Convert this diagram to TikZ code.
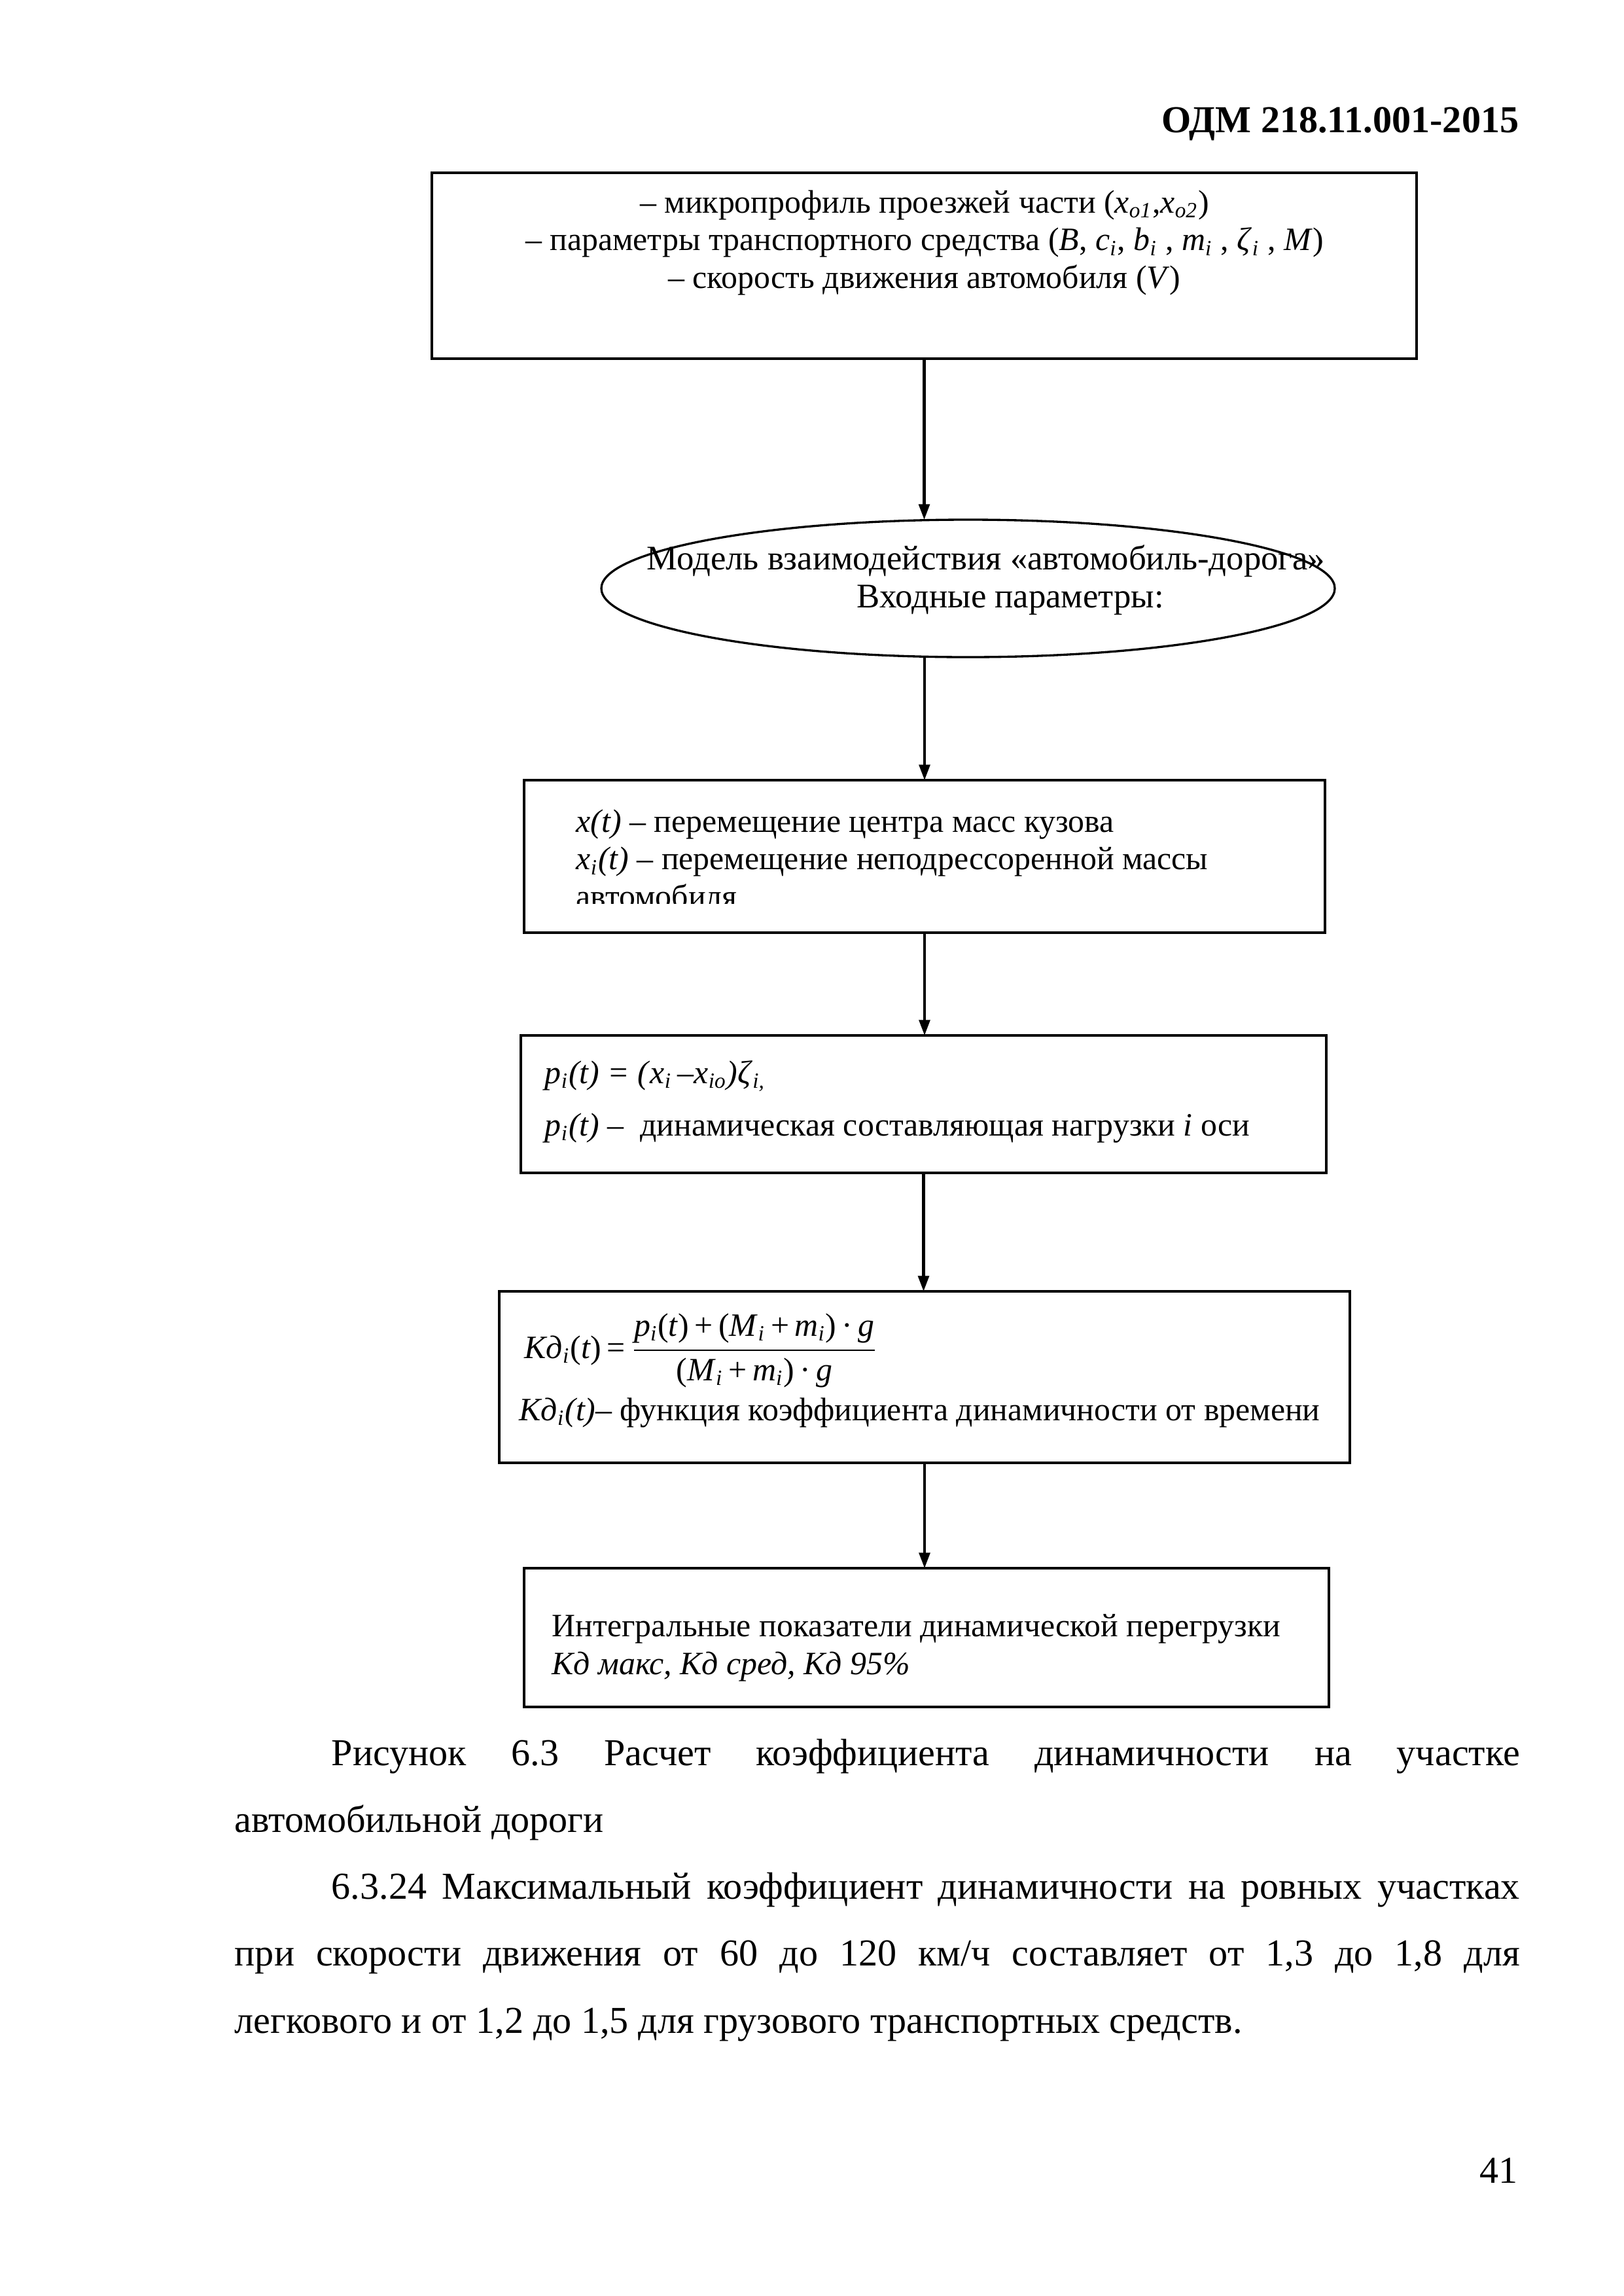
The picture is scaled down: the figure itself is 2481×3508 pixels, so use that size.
\documentclass[tikz,border=0pt]{standalone}
\usepackage{fontspec}
\setmainfont{Liberation Serif}
\usepackage{amsmath}
\usetikzlibrary{arrows.meta,shapes.geometric}

\newlength\pxu
\setlength\pxu{0.084643mm}
\newcommand\diagfont{\fontsize{12}{13.8}\selectfont}
\newcommand\modelfont{\fontsize{12.7}{13.8}\selectfont}
\newcommand\pagefont{\fontsize{14}{24.7}\selectfont}
\newcommand\isub[2]{\textit{#1}\textsubscript{\textit{#2}}}

\begin{document}
\begin{tikzpicture}[
  x=\pxu, y=-\pxu,
  blk/.style={draw,line width=1pt,inner sep=0pt,outer sep=0pt},
  oval/.style={draw,ellipse,line width=0.8pt,inner sep=0pt,outer sep=0pt},
  txt/.style={inner sep=0pt,font=\diagfont,align=left,anchor=base west},
  ptxt/.style={inner sep=0pt,font=\pagefont,anchor=base west},
  arr/.style={-{Triangle[length=2mm,width=1.4mm]},line width=1pt}
]
\fill[white] (0,0) rectangle (2481,3508);
\useasboundingbox (0,0) rectangle (2481,3508);

\node[ptxt,anchor=base east,font=\pagefont\bfseries] (hdr) at (2322,202) {ОДМ 218.11.001-2015};

% blocks of the scheme
\node[blk,minimum width=1505*\pxu,minimum height=284*\pxu] (inp) at (1412.5,406) {};
\node[oval,minimum width=1121*\pxu,minimum height=210*\pxu] (mdl) at (1479.5,899) {};
\node[blk,minimum width=1224*\pxu,minimum height=233*\pxu] (disp) at (1413,1308.5) {};
\node[blk,minimum width=1231*\pxu,minimum height=210*\pxu] (load) at (1411.5,1687) {};
\node[blk,minimum width=1300*\pxu,minimum height=262*\pxu] (kdyn) at (1413,2104) {};
\node[blk,minimum width=1230*\pxu,minimum height=212*\pxu] (integ) at (1416,2502) {};

% texts (base = last line)
\node[txt,align=center,anchor=base] (inp-t) at (1413,440) {%
  – микропрофиль проезжей части (\isub{x}{o1},\isub{x}{o2})\\
  – параметры транспортного средства (\textit{B}, \isub{c}{i}, \isub{b}{i} , \isub{m}{i} , \isub{ζ}{i} , \textit{M})\\
  – скорость движения автомобиля (\textit{V})};
\node[txt,font=\modelfont] (mdl-t) at (988,928) {Модель взаимодействия «автомобиль-дорога»\\
  \hspace*{321\pxu}Входные параметры:};
\begin{scope}
  \clip (disp.north west) rectangle (2025,1380);
  \node[txt] (disp-t) at (880,1386) {\textit{x(t)} – перемещение центра масс кузова\\
    \isub{x}{i}\textit{(t)} – перемещение неподрессоренной массы\\
    автомобиля};
\end{scope}
\node[txt] (load-t) at (832,1735) {\isub{p}{i}\textit{(t) = (}\isub{x}{i}\,\textit{–}\isub{x}{io}\textit{)}\isub{ζ}{i,}\\[5.4pt]
  \isub{p}{i}\textit{(t)} –\ \ динамическая составляющая нагрузки \textit{i} оси};
\node[txt] (kdyn-f) at (801,2075) {\isub{Кд}{i}(\textit{t})\,=\,%
  $\dfrac{\text{\isub{p}{i}(\textit{t})\,+\,(\isub{M}{i}\,+\,\isub{m}{i})\,·\,\textit{g}}}
         {\text{(\isub{M}{i}\,+\,\isub{m}{i})\,·\,\textit{g}}}$};
\node[txt] (kdyn-t) at (793,2170) {\isub{Кд}{i}\textit{(t)}– функция коэффициента динамичности от времени};
\node[txt] (integ-t) at (843,2558) {Интегральные показатели динамической перегрузки\\
  \textit{Кд макс, Кд сред, Кд 95\%}};

% connectors
\draw[arr] (inp.south) -- (inp.south |- mdl.north);
\draw[arr] (mdl.south -| disp.north) -- (disp.north);
\draw[arr] (disp.south) -- (disp.south |- load.north);
\draw[arr] (load.south) -- (load.south |- kdyn.north);
\draw[arr] (kdyn.south) -- (kdyn.south |- integ.north);

% page text
\node[ptxt,text width=1964*\pxu,align=justify] (cap) at (358,2697) {\hspace*{148\pxu}Рисунок 6.3 Расчет коэффициента динамичности на участке\linebreak
  автомобильной дороги};
\node[ptxt,text width=1964*\pxu,align=justify] (par) at (358,2901) {\hspace*{148\pxu}6.3.24 Максимальный коэффициент динамичности на ровных участках\linebreak
  при скорости движения от 60 до 120 км/ч составляет от 1,3 до 1,8 для\linebreak
  легкового и от 1,2 до 1,5 для грузового транспортных средств.};
\node[ptxt,anchor=base east] (pnum) at (2320,3335) {41};
\end{tikzpicture}
\end{document}
